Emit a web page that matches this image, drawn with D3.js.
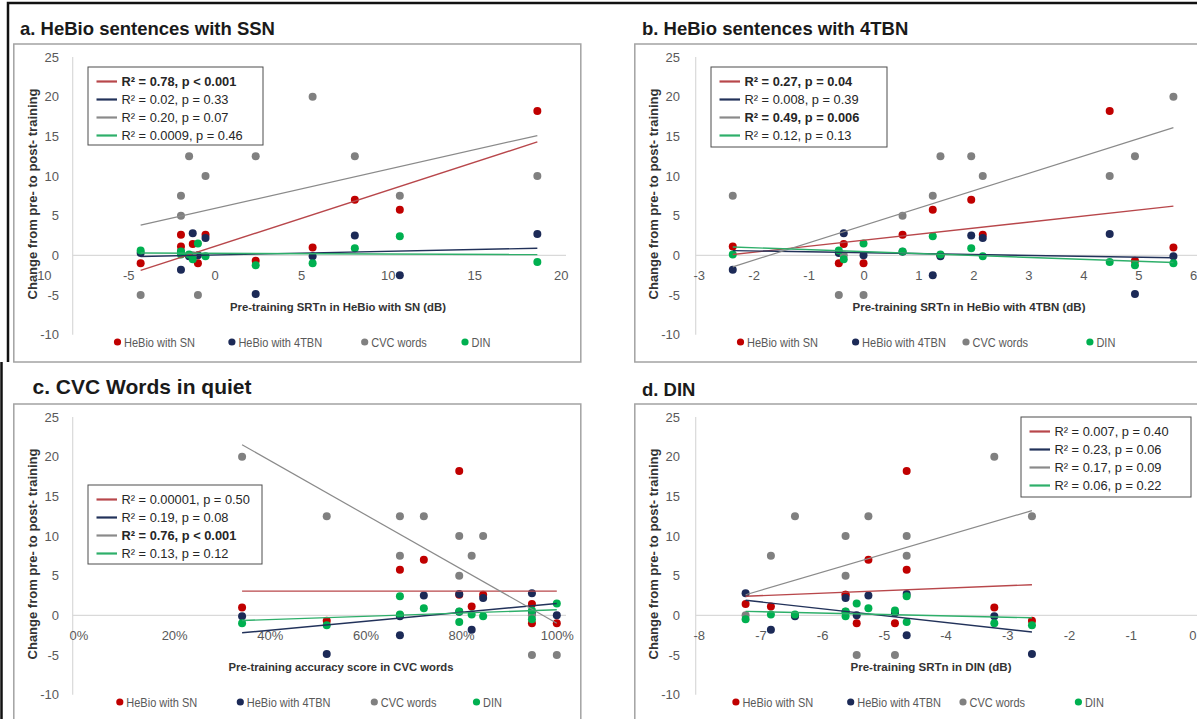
<!DOCTYPE html>
<html>
<head>
<meta charset="utf-8">
<script src="https://cdn.jsdelivr.net/npm/d3@7"></script>
<style>
body { margin: 0; background: #fff; }
text { font-family: "Liberation Sans", Arial, sans-serif; }
</style>
</head>
<body>
<svg id="chart" width="1197" height="719"></svg>
<script>
// pre-training scores of the 12 participants (x values of each panel)
var preSN   = [18.65, 10.7, 8.1, 5.66, 2.37, -0.53, -0.97, -1.27, -1.48, -1.95, -1.95, -4.28];
var pre4TBN = [4.48, 1.26, 1.96, 5.64, 4.94, 2.17, 0.0, -0.36, 1.40, 0.71, -2.38, -0.45];
var preCVC  = [0.796, 0.672, 0.722, 0.342, 0.519, 0.846, 1.0, 0.948, 0.672, 0.796, 0.822, 0.948];
var preDIN  = [-4.63, -4.63, -5.25, -3.21, -2.60, -5.62, -5.44, -7.24, -6.44, -5.62, -6.83, -4.82];

// change from pre- to post-training (y values, same in every panel)
var chSN   = [18.2, 5.74, 7.0, 1.0, -0.67, 2.6, -1.0, 1.43, 0.0, 2.6, 1.13, -1.0];
var ch4TBN = [2.7, -2.5, 2.5, -0.1, -4.86, 2.2, 0.0, 2.8, -0.1, 0.45, -1.8, 0.3];
var chCVC  = [10, 7.5, 12.5, 20, 12.5, 10, -5, 0, 12.5, 5, 7.5, -5];
var chDIN  = [-0.85, 2.4, 0.9, -1.0, -1.25, -0.1, 1.5, -0.5, 0.1, 0.5, 0.1, 0.6];

var seriesNames = ["HeBio with SN", "HeBio with 4TBN", "CVC words", "DIN"];
var dotColors  = ["#C00000", "#1C2A57", "#808080", "#00B050"];
var lineColors = ["#B8474B", "#22325A", "#8A8A8A", "#2EAF6A"];

var yTicks = [25, 20, 15, 10, 5, 0, -5, -10];
var xTicksA = [-10, -5, 0, 5, 10, 15, 20];
var xTicksB = [-3, -2, -1, 0, 1, 2, 3, 4, 5, 6];
var xTicksC = [0, 0.2, 0.4, 0.6, 0.8, 1.0];
var xTicksD = [-8, -7, -6, -5, -4, -3, -2, -1, 0];

// trend lines: change at the lowest and at the highest x of each series
var fitA = [[-1.9, 14.3], [-0.15, 0.9], [3.8, 15.1], [0.3, 0.1]];
var fitB = [[0.1, 6.2], [0.6, -0.3], [-1.45, 16.1], [1.05, -0.9]];
var fitC = [[3.05, 3.05], [-2.2, 1.5], [21.5, -1.0], [-0.65, 0.7]];
var fitD = [[2.4, 3.86], [1.9, -2.1], [2.6, 13.2], [0.5, -0.3]];

var statsA = ["R² = 0.78, p < 0.001", "R² = 0.02, p = 0.33", "R² = 0.20, p = 0.07", "R² = 0.0009, p = 0.46"];
var statsB = ["R² = 0.27, p = 0.04", "R² = 0.008, p = 0.39", "R² = 0.49, p = 0.006", "R² = 0.12, p = 0.13"];
var statsC = ["R² = 0.00001, p = 0.50", "R² = 0.19, p = 0.08", "R² = 0.76, p < 0.001", "R² = 0.13, p = 0.12"];
var statsD = ["R² = 0.007, p = 0.40", "R² = 0.23, p = 0.06", "R² = 0.17, p = 0.09", "R² = 0.06, p = 0.22"];
var boldA = [true, false, false, false];
var boldB = [true, false, true, false];
var boldC = [false, false, true, false];
var boldD = [false, false, false, false];

var changes = [chSN, ch4TBN, chCVC, chDIN];

var panels = [
    {title: "a. HeBio sentences with SSN", titleX: 20, titleY: 35, titleSize: 18.5,
     x: preSN, ticks: xTicksA, domain: [-10, 20], range: [41.7, 560.7], fmt: d => String(d),
     xTitle: "Pre-training SRTn in HeBio with SN (dB)", xTitleX: 338, xTitleW: 216,
     fits: fitA, stats: statsA, bold: boldA, box: [88, 67, 175, 78],
     keyX: [117.5, 231.9, 364.7, 465], ox: 0, oy: 0, axisX: 72.7, zeroEnd: 566, frameW: 567},
    {title: "b. HeBio sentences with 4TBN", titleX: 21, titleY: 35, titleSize: 18.5,
     x: pre4TBN, ticks: xTicksB, domain: [-3, 6], range: [77.7, 572.2], fmt: d => String(d),
     xTitle: "Pre-training SRTn in HeBio with 4TBN (dB)", xTitleX: 348, xTitleW: 233,
     fits: fitB, stats: statsB, bold: boldB, box: [90, 67, 176, 80],
     keyX: [119.5, 234.6, 345, 468.9], ox: 621, oy: 0, axisX: 74.7, zeroEnd: 580, frameW: 600},
    {title: "c. CVC Words in quiet", titleX: 32.5, titleY: 33.5, titleSize: 21,
     x: preCVC, ticks: xTicksC, domain: [0, 1], range: [78.5, 556.8], fmt: d => Math.round(d * 100) + "%",
     xTitle: "Pre-training accuracy score in CVC words", xTitleX: 341, xTitleW: 225,
     fits: fitC, stats: statsC, bold: boldC, box: [88, 125, 174, 79],
     keyX: [119.8, 240.3, 374.3, 476.5], ox: 0, oy: 360, axisX: 72.7, zeroEnd: 566, frameW: 567},
    {title: "d. DIN", titleX: 21, titleY: 36, titleSize: 18.5,
     x: preDIN, ticks: xTicksD, domain: [-8, 0], range: [77.7, 571.4], fmt: d => String(d),
     xTitle: "Pre-training SRTn in DIN (dB)", xTitleX: 310, xTitleW: 161,
     fits: fitD, stats: statsD, bold: boldD, box: [400, 57, 170, 80],
     keyX: [114.9, 229.7, 342, 457.4], ox: 621, oy: 360, axisX: 74.7, zeroEnd: 580, frameW: 600}
];

var svg = d3.select("#chart");
var y = d3.scaleLinear().domain([-10, 25]).range([334.7, 57]);

// squeeze a text a little, the original uses a narrower face
function narrow(sel, k) {
    sel.each(function() {
        var len = this.getComputedTextLength();
        d3.select(this).attr("textLength", len * k).attr("lengthAdjust", "spacingAndGlyphs");
    });
}

panels.forEach(function(p) {
    var g = svg.append("g").attr("transform", "translate(" + p.ox + "," + p.oy + ")");
    var x = d3.scaleLinear().domain(p.domain).range(p.range);

    // plot frame
    g.append("rect").attr("x", 13.8).attr("y", 44).attr("width", p.frameW).attr("height", 318)
        .attr("fill", "none").attr("stroke", "#a3a3a3").attr("stroke-width", 1.5);

    g.append("text").attr("x", p.titleX).attr("y", p.titleY)
        .style("font-size", p.titleSize + "px").style("font-weight", "bold").attr("fill", "#1a1a1a")
        .text(p.title);

    // light axis line and zero line
    g.append("line").attr("x1", p.axisX).attr("x2", p.axisX).attr("y1", y(25)).attr("y2", y(-10))
        .attr("stroke", "#d9d9d9").attr("stroke-width", 1.2);
    g.append("line").attr("x1", p.axisX).attr("x2", p.zeroEnd).attr("y1", y(0)).attr("y2", y(0))
        .attr("stroke", "#d9d9d9").attr("stroke-width", 1.4);

    // axis titles
    g.append("text").attr("transform", "translate(36.5,194) rotate(-90)")
        .attr("text-anchor", "middle").style("font-size", "13px").style("font-weight", "bold")
        .attr("fill", "#333").text("Change from pre- to post- training");
    g.append("text").attr("x", p.xTitleX).attr("y", 310.5).attr("text-anchor", "middle")
        .style("font-size", "11.5px").style("font-weight", "bold").attr("fill", "#333")
        .attr("textLength", p.xTitleW).attr("lengthAdjust", "spacingAndGlyphs")
        .text(p.xTitle);

    var yAxis = g.append("g").attr("transform", "translate(" + p.axisX + ",0)")
        .call(d3.axisLeft(y).tickValues(yTicks).tickSize(0).tickPadding(p.axisX - 59).tickFormat(d => String(d)));
    var xAxis = g.append("g").attr("transform", "translate(0," + y(0) + ")")
        .call(d3.axisBottom(x).tickValues(p.ticks).tickSize(0).tickPadding(15).tickFormat(p.fmt));
    [yAxis, xAxis].forEach(function(a) {
        a.select(".domain").remove();
        a.selectAll("text").style("font-size", "13px").attr("fill", "#595959")
            .style("font-family", "'Liberation Sans', Arial, sans-serif");
    });

    // points, one series after another
    changes.forEach(function(ch, s) {
        g.selectAll(".dot" + s).data(ch).enter().append("circle")
            .attr("class", "dot" + s)
            .attr("cx", (d, i) => x(p.x[i]))
            .attr("cy", d => y(d))
            .attr("r", 4)
            .attr("fill", dotColors[s]);
    });

    // trend lines across the range of the x data
    var xMin = d3.min(p.x), xMax = d3.max(p.x);
    p.fits.forEach(function(f, s) {
        g.append("line")
            .attr("x1", x(xMin)).attr("y1", y(f[0]))
            .attr("x2", x(xMax)).attr("y2", y(f[1]))
            .attr("stroke", lineColors[s]).attr("stroke-width", s == 2 ? 1.2 : 1.4);
    });

    // R² legend box
    var b = p.box;
    var box = g.append("g");
    box.append("rect").attr("x", b[0]).attr("y", b[1]).attr("width", b[2]).attr("height", b[3])
        .attr("fill", "#fff").attr("stroke", "#4d4d4d").attr("stroke-width", 1);
    p.stats.forEach(function(t, s) {
        var cy = b[1] + 14.5 + s * 18;
        box.append("line").attr("x1", b[0] + 8.5).attr("x2", b[0] + 29).attr("y1", cy).attr("y2", cy)
            .attr("stroke", lineColors[s]).attr("stroke-width", 2.2);
        box.append("text").attr("x", b[0] + 33.5).attr("y", cy + 4.8)
            .style("font-size", "13.5px").style("font-weight", p.bold[s] ? "bold" : "normal")
            .attr("fill", "#262626").text(t)
            .call(narrow, 0.95);
    });

    // series key under the plot
    var key = g.append("g");
    seriesNames.forEach(function(n, s) {
        key.append("circle").attr("cx", p.keyX[s]).attr("cy", 342).attr("r", 3.6).attr("fill", dotColors[s]);
        key.append("text").attr("x", p.keyX[s] + 6.5).attr("y", 346.5)
            .style("font-size", "12.5px").attr("fill", "#595959").text(n)
            .call(narrow, 0.88);
    });
});

// outer black border of the figure
svg.append("path").attr("d", "M8,362 L8,3 L1197,3").attr("fill", "none")
    .attr("stroke", "#111").attr("stroke-width", 2.5);
svg.append("line").attr("x1", 1.5).attr("x2", 1.5).attr("y1", 362).attr("y2", 719)
    .attr("stroke", "#111").attr("stroke-width", 2.5);
</script>
</body>
</html>
